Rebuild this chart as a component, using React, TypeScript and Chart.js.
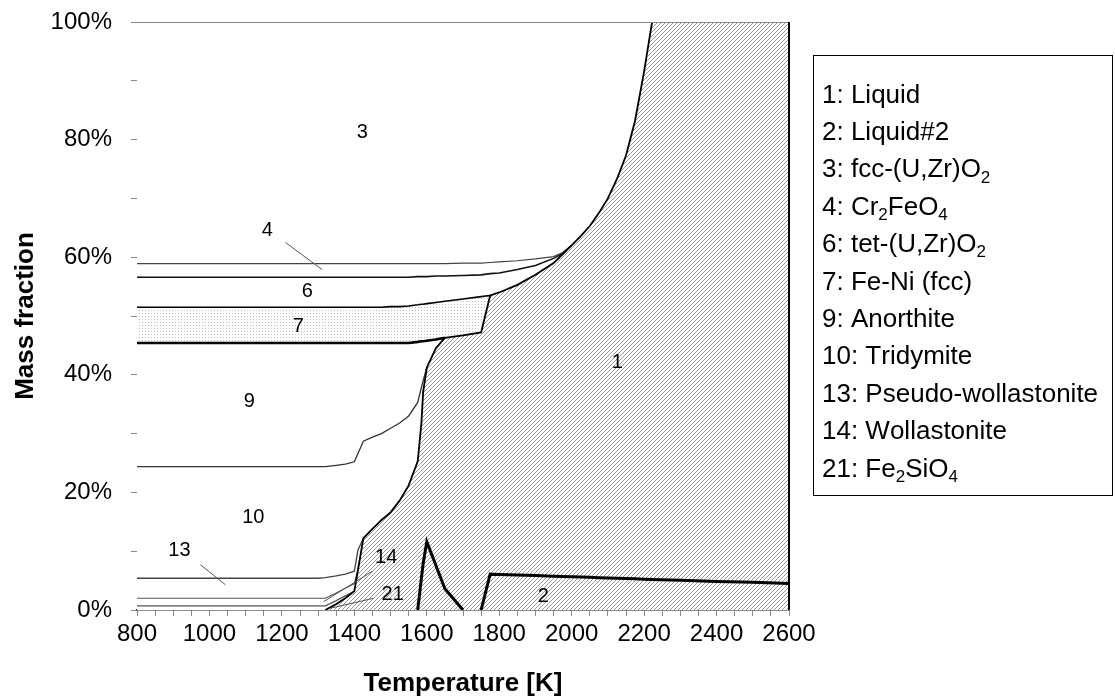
import React, { useEffect, useRef } from 'react';
import { Chart, registerables } from 'chart.js';

Chart.register(...registerables);

// Temperature grid [K]
const temperature = [800, 1300, 1320, 1350, 1375, 1400, 1410, 1425, 1450, 1475, 1500, 1525, 1550, 1575, 1585, 1590, 1600, 1625, 1650, 1700, 1750, 1775, 1800, 1850, 1900, 1950, 1975, 2000, 2025, 2050, 2075, 2100, 2125, 2150, 2175, 2200, 2222, 2300, 2400, 2500, 2600];

// Mass fraction of each phase [%] (stacked bottom to top)
const liquid2 = [0, 0, 0, 0, 0, 0, 0, 0, 0, 0, 0, 0, 0, 0, 5.3, 7.9, 11.6, 7.6, 3.6, 0, 0, 6.1, 6.05, 5.95, 5.85, 5.75, 5.7, 5.65, 5.6, 5.55, 5.5, 5.45, 5.4, 5.35, 5.3, 5.25, 5.2, 5.05, 4.85, 4.7, 4.5];
const liquid = [0, 0, 0, 1.0, 2.0, 3.2, 6.8, 12.2, 13.8, 15.3, 16.6, 18.6, 21.2, 25.3, 26.4, 29.2, 29.6, 36.9, 42.7, 46.7, 47.2, 47.4, 47.95, 49.35, 51.15, 53.25, 54.8, 56.35, 58.0, 59.75, 62.0, 64.55, 67.9, 71.95, 77.9, 86.35, 94.8, 94.95, 95.15, 95.3, 95.5];
const fe2sio4 = [0.7, 0.7, 0.7, 0.6, 0.4, 0, 0, 0, 0, 0, 0, 0, 0, 0, 0, 0, 0, 0, 0, 0, 0, 0, 0, 0, 0, 0, 0, 0, 0, 0, 0, 0, 0, 0, 0, 0, 0, 0, 0, 0, 0];
const wollastonite = [1.3, 1.3, 1.3, 1.3, 1.3, 1.3, 0, 0, 0, 0, 0, 0, 0, 0, 0, 0, 0, 0, 0, 0, 0, 0, 0, 0, 0, 0, 0, 0, 0, 0, 0, 0, 0, 0, 0, 0, 0, 0, 0, 0, 0];
const pseudoWollastonite = [3.4, 3.4, 3.5, 2.9, 2.4, 2.1, 3.4, 0, 0, 0, 0, 0, 0, 0, 0, 0, 0, 0, 0, 0, 0, 0, 0, 0, 0, 0, 0, 0, 0, 0, 0, 0, 0, 0, 0, 0, 0, 0, 0, 0, 0];
const tridymite = [19.0, 19.0, 18.9, 18.8, 18.7, 18.6, 16.4, 16.5, 15.6, 14.7, 14.3, 13.2, 11.8, 10.0, 6.1, 1.9, 0, 0, 0, 0, 0, 0, 0, 0, 0, 0, 0, 0, 0, 0, 0, 0, 0, 0, 0, 0, 0, 0, 0, 0, 0];
const anorthite = [21.0, 21.0, 21.0, 20.8, 20.6, 20.2, 18.8, 16.7, 16.0, 15.4, 14.5, 13.6, 12.4, 10.3, 7.9, 6.7, 4.6, 1.5, 0, 0, 0, 0, 0, 0, 0, 0, 0, 0, 0, 0, 0, 0, 0, 0, 0, 0, 0, 0, 0, 0, 0];
const feNiFcc = [6.1, 6.1, 6.1, 6.1, 6.1, 6.1, 6.1, 6.1, 6.1, 6.1, 6.2, 6.2, 6.3, 6.3, 6.3, 6.3, 6.3, 6.3, 6.2, 6.2, 6.1, 0, 0, 0, 0, 0, 0, 0, 0, 0, 0, 0, 0, 0, 0, 0, 0, 0, 0, 0, 0];
const tetUZrO2 = [5.1, 5.1, 5.1, 5.1, 5.1, 5.1, 5.1, 5.1, 5.1, 5.1, 5.0, 5.0, 4.9, 4.8, 4.7, 4.7, 4.6, 4.5, 4.3, 4.0, 3.7, 3.7, 3.3, 2.6, 1.6, 0.8, 0.1, 0, 0, 0, 0, 0, 0, 0, 0, 0, 0, 0, 0, 0, 0];
const cr2feo4 = [2.3, 2.3, 2.3, 2.3, 2.3, 2.3, 2.3, 2.3, 2.3, 2.3, 2.3, 2.3, 2.3, 2.2, 2.2, 2.2, 2.2, 2.1, 2.1, 2.1, 2.0, 1.9, 1.9, 1.5, 1.1, 0.3, 0.2, 0, 0, 0, 0, 0, 0, 0, 0, 0, 0, 0, 0, 0, 0];
const fccUZrO2 = [41.1, 41.1, 41.1, 41.1, 41.1, 41.1, 41.1, 41.1, 41.1, 41.1, 41.1, 41.1, 41.1, 41.1, 41.1, 41.1, 41.1, 41.1, 41.1, 41.0, 41.0, 40.9, 40.8, 40.6, 40.3, 39.9, 39.2, 38.0, 36.4, 34.7, 32.5, 30.0, 26.7, 22.7, 16.8, 8.4, 0, 0, 0, 0, 0];

const phaseNames = ['Liquid#2', 'Liquid', 'Fe₂SiO₄', 'Wollastonite', 'Pseudo-wollastonite', 'Tridymite', 'Anorthite', 'Fe-Ni (fcc)', 'tet-(U,Zr)O₂', 'Cr₂FeO₄', 'fcc-(U,Zr)O₂'];

// Legend entries (as in the figure)
const legendLabels = ['1: Liquid', '2: Liquid#2', '3: fcc-(U,Zr)O₂', '4: Cr₂FeO₄', '6: tet-(U,Zr)O₂', '7: Fe-Ni (fcc)', '9: Anorthite', '10: Tridymite', '13: Pseudo-wollastonite', '14: Wollastonite', '21: Fe₂SiO₄'];

// Region number labels inside the plot (temperature, mass fraction)
const regionLabels = ['3', '4', '6', '7', '9', '10', '13', '14', '21', '2', '1'];
const regionLabelT = [1422, 1160, 1270, 1245, 1110, 1121, 917, 1488, 1506, 1922, 2126];
const regionLabelV = [81.2, 64.5, 54.1, 48.2, 35.4, 15.7, 10.2, 8.9, 2.7, 2.3, 42.1];

// Leader lines from labels to thin regions: [T1, V1, T2, V2]
const leaderLines = [
  [1210, 62.5, 1311, 57.9],
  [975, 7.7, 1044, 4.3],
  [1450, 6.6, 1315, 1.4],
  [1453, 2.0, 1334, 0.3],
];

const FONT = "'Liberation Sans', Arial, sans-serif";

function makeHatch(): CanvasPattern {
  const c = document.createElement('canvas');
  c.width = 4;
  c.height = 4;
  const g = c.getContext('2d')!;
  g.fillStyle = '#ffffff';
  g.fillRect(0, 0, 4, 4);
  g.strokeStyle = '#9a9a9a';
  g.lineWidth = 1;
  g.beginPath();
  g.moveTo(-1, 5); g.lineTo(5, -1);
  g.moveTo(-1, 1); g.lineTo(1, -1);
  g.moveTo(3, 5); g.lineTo(5, 3);
  g.stroke();
  return g.createPattern(c, 'repeat')!;
}

function makeDots(): CanvasPattern {
  const c = document.createElement('canvas');
  c.width = 3;
  c.height = 3;
  const g = c.getContext('2d')!;
  g.fillStyle = '#ffffff';
  g.fillRect(0, 0, 3, 3);
  g.fillStyle = '#bcbcbc';
  g.fillRect(1, 1, 1, 1);
  return g.createPattern(c, 'repeat')!;
}

const SUBS = '₀₁₂₃₄₅₆₇₈₉';

function drawRich(ctx: CanvasRenderingContext2D, text: string, x: number, baseline: number, size: number) {
  let cx = x;
  for (const ch of text) {
    const si = SUBS.indexOf(ch);
    if (si >= 0) {
      ctx.font = `${Math.round(size * 0.65)}px ${FONT}`;
      ctx.fillText(String(si), cx, baseline + size * 0.2);
      cx += ctx.measureText(String(si)).width;
    } else {
      ctx.font = `${size}px ${FONT}`;
      ctx.fillText(ch, cx, baseline);
      cx += ctx.measureText(ch).width;
    }
  }
}

const annotationPlugin = {
  id: 'regionAnnotations',
  afterDatasetsDraw(chart: any) {
    const { ctx, scales } = chart;
    const xs = scales.x;
    const ys = scales.y;
    ctx.save();
    ctx.strokeStyle = '#555';
    ctx.lineWidth = 1;
    leaderLines.forEach((l) => {
      ctx.beginPath();
      ctx.moveTo(xs.getPixelForValue(l[0]), ys.getPixelForValue(l[1]));
      ctx.lineTo(xs.getPixelForValue(l[2]), ys.getPixelForValue(l[3]));
      ctx.stroke();
    });
    ctx.fillStyle = '#000';
    ctx.font = `20px ${FONT}`;
    ctx.textAlign = 'center';
    ctx.textBaseline = 'middle';
    regionLabels.forEach((t, i) => {
      ctx.fillText(t, xs.getPixelForValue(regionLabelT[i]), ys.getPixelForValue(regionLabelV[i]));
    });
    // plot frame: top (gray) and right (black)
    const a = chart.chartArea;
    ctx.strokeStyle = '#888';
    ctx.lineWidth = 1;
    ctx.beginPath();
    ctx.moveTo(a.left, a.top + 0.5);
    ctx.lineTo(a.right, a.top + 0.5);
    ctx.stroke();
    ctx.strokeStyle = '#000';
    ctx.lineWidth = 2;
    ctx.beginPath();
    ctx.moveTo(a.right, a.top);
    ctx.lineTo(a.right, a.bottom);
    ctx.stroke();
    ctx.restore();
  },
};

const legendPlugin = {
  id: 'phaseLegend',
  afterDraw(chart: any) {
    const { ctx } = chart;
    ctx.save();
    ctx.strokeStyle = '#000';
    ctx.lineWidth = 1;
    ctx.strokeRect(813.5, 55.5, 299, 440);
    ctx.fillStyle = '#000';
    ctx.textAlign = 'left';
    ctx.textBaseline = 'alphabetic';
    legendLabels.forEach((lab, i) => {
      const cy = 93 + i * 37.4;
      drawRich(ctx, lab, 822, cy + 9.5, 26);
    });
    ctx.restore();
  },
};

export default function App() {
  const ref = useRef<HTMLCanvasElement>(null);

  useEffect(() => {
    document.body.style.margin = '0';
    const canvas = ref.current!;
    const hatch = makeHatch();
    const dots = makeDots();
    const series = [liquid2, liquid, fe2sio4, wollastonite, pseudoWollastonite, tridymite, anorthite, feNiFcc, tetUZrO2, cr2feo4, fccUZrO2];
    const styles: { bg: any; border: string; width: number }[] = [
      { bg: hatch, border: '#000', width: 3 },
      { bg: hatch, border: '#000', width: 1.8 },
      { bg: '#fff', border: '#555', width: 1.2 },
      { bg: '#fff', border: '#555', width: 1.2 },
      { bg: '#fff', border: '#444', width: 1.3 },
      { bg: '#fff', border: '#333', width: 1.3 },
      { bg: '#fff', border: '#000', width: 2.6 },
      { bg: dots, border: '#000', width: 1.6 },
      { bg: '#fff', border: '#111', width: 1.6 },
      { bg: '#fff', border: '#444', width: 1.2 },
      { bg: '#fff', border: 'rgba(0,0,0,0)', width: 0 },
    ];
    const datasets = series.map((vals, i) => ({
      label: phaseNames[i],
      data: vals.map((v, j) => ({ x: temperature[j], y: v })),
      fill: i === 0 ? 'origin' : '-1',
      backgroundColor: styles[i].bg,
      borderColor: styles[i].border,
      borderWidth: styles[i].width,
      segment: {
        borderColor: (c: any) =>
          vals[c.p0DataIndex] === 0 && vals[c.p1DataIndex] === 0 ? 'rgba(0,0,0,0)' : styles[i].border,
      },
      pointRadius: 0,
      pointHoverRadius: 0,
      tension: 0,
    }));

    const chart = new Chart(canvas, {
      type: 'line',
      data: { datasets },
      plugins: [annotationPlugin, legendPlugin],
      options: {
        responsive: false,
        animation: false,
        devicePixelRatio: 1,
        layout: { padding: { top: 22, right: 326, left: 0, bottom: 0 } },
        plugins: { legend: { display: false }, tooltip: { enabled: false } },
        scales: {
          x: {
            type: 'linear',
            min: 800,
            max: 2600,
            ticks: {
              stepSize: 50,
              autoSkip: false,
              maxRotation: 0,
              minRotation: 0,
              padding: 4,
              color: '#000',
              font: { family: FONT, size: 24 },
              callback: (v: any) => (Math.round(v) % 200 === 0 ? String(Math.round(v)) : ''),
            },
            grid: { drawOnChartArea: false, tickLength: 6, color: '#888' },
            border: { color: '#222', width: 1.5 },
            title: {
              display: true,
              text: 'Temperature [K]',
              color: '#000',
              font: { family: FONT, size: 26, weight: 'bold' },
              padding: { top: 0, bottom: 0 },
            },
            afterFit: (s: any) => { s.height = 89; s.paddingLeft = 0; s.paddingRight = 0; },
          },
          y: {
            stacked: true,
            min: 0,
            max: 100,
            ticks: {
              stepSize: 10,
              padding: 19,
              color: '#000',
              font: { family: FONT, size: 24 },
              callback: (v: any) => (Math.round(v) % 20 === 0 ? `${Math.round(v)}%` : ''),
            },
            grid: { drawOnChartArea: false, tickLength: 6, color: '#888' },
            border: { color: '#888', width: 1 },
            title: {
              display: true,
              text: 'Mass fraction',
              color: '#000',
              font: { family: FONT, size: 26, weight: 'bold' },
              padding: { top: 10, bottom: 0 },
            },
            afterFit: (s: any) => { s.width = 137; s.paddingTop = 0; s.paddingBottom = 0; },
          },
        },
      } as any,
    });
    return () => chart.destroy();
  }, []);

  return (
    <div style={{ width: 1115, height: 699 }}>
      <canvas ref={ref} width={1115} height={699} />
    </div>
  );
}
